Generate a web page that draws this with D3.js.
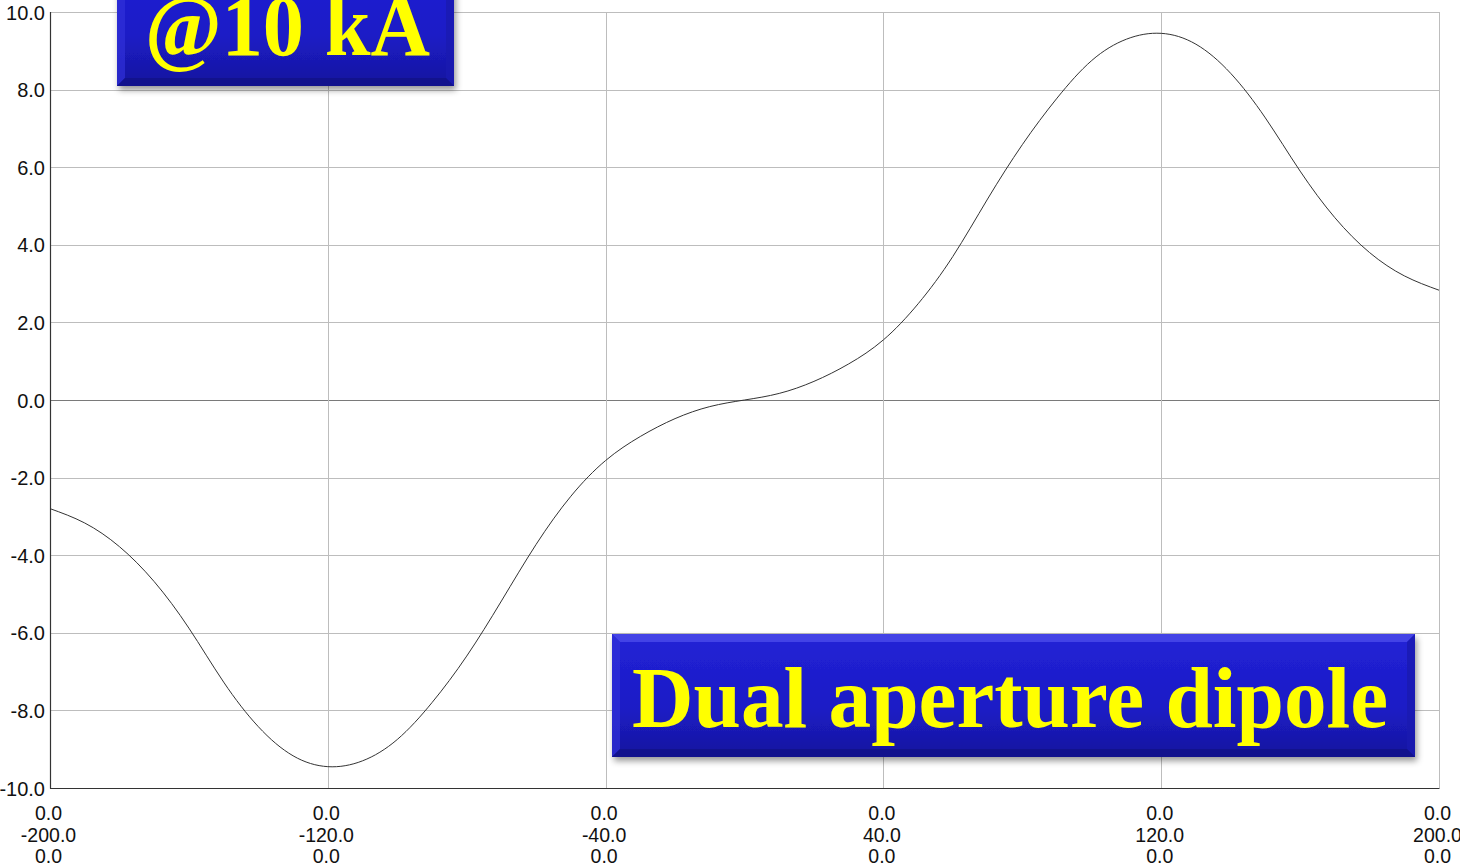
<!DOCTYPE html>
<html>
<head>
<meta charset="utf-8">
<script src="https://cdn.jsdelivr.net/npm/d3@7"></script>
<style>
  html, body { margin: 0; padding: 0; background: #ffffff; overflow: hidden; }
  svg { display: block; }
</style>
</head>
<body>
<svg id="chart" width="1460" height="864"></svg>
<script>
// ---- data ----
const positions = [-200,-190,-180,-170,-160,-150,-140,-130,-120,-110,-100,-90,-80,-70,-60,-50,-40,-30,-20,-10,
                   0,10,20,30,40,50,60,70,80,90,100,110,120,130,140,150,160,170,180,190,200];
const fieldValues = [-2.80,-3.17,-3.78,-4.68,-5.88,-7.27,-8.42,-9.17,-9.45,-9.30,-8.75,-7.80,-6.60,-5.18,-3.72,-2.48,-1.56,-0.94,-0.48,-0.17,
                     0.00,0.17,0.48,0.93,1.55,2.48,3.70,5.18,6.58,7.78,8.75,9.30,9.45,9.17,8.42,7.27,5.90,4.70,3.80,3.20,2.83];
const xTicks = [-200,-120,-40,40,120,200];
const yTicks = [-10,-8,-6,-4,-2,0,2,4,6,8,10];
const xTickTopLabels = ["0.0","0.0","0.0","0.0","0.0","0.0"];
const xTickBottomLabels = ["0.0","0.0","0.0","0.0","0.0","0.0"];
const titleTop = "@10 kA";
const titleBottom = "Dual aperture dipole";

const svg = d3.select("#chart");
const L = 50, R = 1439, T = 12, B = 788;
const x = d3.scaleLinear().domain([-200, 200]).range([L, R]);
const y = d3.scaleLinear().domain([-10, 10]).range([B, T]);
const fmt = d => d3.format(".1f")(d).replace("\u2212", "-");

// grid
const grid = svg.append("g");
grid.selectAll("line.h").data(yTicks).join("line")
  .attr("x1", L).attr("x2", R)
  .attr("y1", d => Math.round(y(d)) + 0.5).attr("y2", d => Math.round(y(d)) + 0.5)
  .attr("stroke", d => d === 0 ? "#7a7a7a" : "#bdbdbd").attr("stroke-width", 1);
grid.selectAll("line.v").data(xTicks).join("line")
  .attr("y1", T).attr("y2", B)
  .attr("x1", d => Math.round(x(d)) + 0.5).attr("x2", d => Math.round(x(d)) + 0.5)
  .attr("stroke", "#bdbdbd").attr("stroke-width", 1);

// axes frame (left + bottom dark)
svg.append("line").attr("x1", L + 0.5).attr("x2", L + 0.5).attr("y1", T).attr("y2", B + 0.5)
  .attr("stroke", "#333").attr("stroke-width", 1.2);
svg.append("line").attr("x1", L).attr("x2", R + 0.5).attr("y1", B + 0.5).attr("y2", B + 0.5)
  .attr("stroke", "#333").attr("stroke-width", 1.2);

// y axis labels via d3 axis
const yAxis = d3.axisLeft(y).tickValues(yTicks).tickFormat(fmt).tickSize(0).tickPadding(5);
const gy = svg.append("g").attr("transform", `translate(${L},0)`).call(yAxis);
gy.select(".domain").remove();
gy.selectAll("text").attr("font-family", "Liberation Sans, Arial, sans-serif").attr("font-size", 20)
  .attr("fill", "#111").attr("dy", "0.35em");

// x axis labels (three lines) via d3 axis
const xAxis = d3.axisBottom(x).tickValues(xTicks).tickFormat(fmt).tickSize(0).tickPadding(0);
const gx = svg.append("g").attr("transform", `translate(-2,${B})`).call(xAxis);
gx.select(".domain").remove();
gx.selectAll(".tick text").each(function(d, i) {
  const t = d3.select(this);
  const mid = t.text();
  t.text(null).attr("y", 0).attr("dy", null)
    .attr("font-family", "Liberation Sans, Arial, sans-serif").attr("font-size", 19.5).attr("fill", "#111");
  t.append("tspan").attr("x", 0).attr("y", 32).text(xTickTopLabels[i]);
  t.append("tspan").attr("x", 0).attr("y", 54).text(mid);
  t.append("tspan").attr("x", 0).attr("y", 75).text(xTickBottomLabels[i]);
});

// curve
const pts = positions.map((p, i) => [p, fieldValues[i]]);
svg.append("path").datum(pts)
  .attr("d", d3.line().x(d => x(d[0])).y(d => y(d[1])).curve(d3.curveNatural))
  .attr("fill", "none").attr("stroke", "#333").attr("stroke-width", 1);

// banner boxes
const defs = svg.append("defs");
const grad = defs.append("linearGradient").attr("id", "blueGrad").attr("x1", 0).attr("y1", 0).attr("x2", 0).attr("y2", 1);
grad.append("stop").attr("offset", "0%").attr("stop-color", "#2222d6");
grad.append("stop").attr("offset", "60%").attr("stop-color", "#1c1cc6");
grad.append("stop").attr("offset", "100%").attr("stop-color", "#16169e");
const sh = defs.append("filter").attr("id", "shadow").attr("x", "-10%").attr("y", "-10%").attr("width", "130%").attr("height", "140%");
sh.append("feDropShadow").attr("dx", 2).attr("dy", 4).attr("stdDeviation", 3).attr("flood-color", "#000").attr("flood-opacity", 0.4);

function banner(x0, y0, w, h, text, baseline, fontSize, textX, textW) {
  const g = svg.append("g");
  g.append("rect").attr("x", x0).attr("y", y0).attr("width", w).attr("height", h)
    .attr("fill", "url(#blueGrad)").attr("filter", "url(#shadow)");
  const b = 8;
  g.append("polygon").attr("points", `${x0},${y0} ${x0+w},${y0} ${x0+w-b},${y0+b} ${x0+b},${y0+b}`)
    .attr("fill", "#4c4cea").attr("opacity", 0.8);
  g.append("polygon").attr("points", `${x0},${y0} ${x0+b},${y0+b} ${x0+b},${y0+h-b} ${x0},${y0+h}`)
    .attr("fill", "#3030d8").attr("opacity", 0.7);
  g.append("polygon").attr("points", `${x0+w},${y0} ${x0+w},${y0+h} ${x0+w-b},${y0+h-b} ${x0+w-b},${y0+b}`)
    .attr("fill", "#1a1ab0").attr("opacity", 0.8);
  g.append("polygon").attr("points", `${x0},${y0+h} ${x0+w},${y0+h} ${x0+w-b},${y0+h-b} ${x0+b},${y0+h-b}`)
    .attr("fill", "#12128a").attr("opacity", 0.85);
  g.append("text").attr("x", textX).attr("y", baseline)
    .attr("font-family", "Liberation Serif, Times New Roman, serif").attr("font-weight", "bold")
    .attr("font-size", fontSize).attr("fill", "#ffff00")
    .attr("textLength", textW).attr("lengthAdjust", "spacingAndGlyphs")
    .text(text);
}
banner(117, -40, 337, 126, titleTop, 55, 86, 145, 285);
banner(612, 634, 803, 123, titleBottom, 727, 86, 632, 756);
</script>
</body>
</html>
